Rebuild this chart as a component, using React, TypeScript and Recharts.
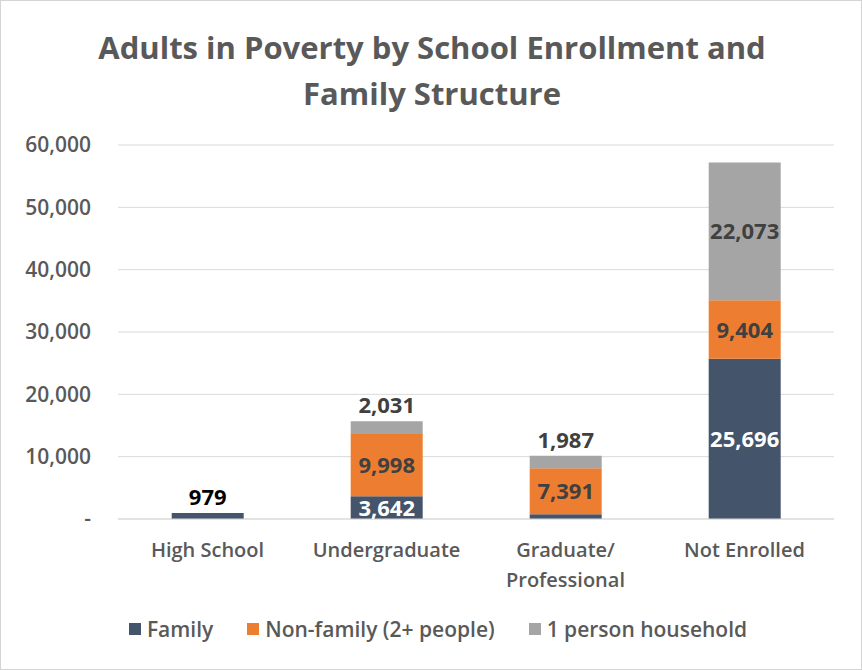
import React from 'react';
import { BarChart, Bar, XAxis, YAxis, CartesianGrid, Legend, LabelList } from 'recharts';

const categories = ['High School', 'Undergraduate', 'Graduate/Professional', 'Not Enrolled'];
const family = [979, 3642, 750, 25696];
const nonFamily = [0, 9998, 7391, 9404];
const onePerson = [0, 2031, 1987, 22073];
const yTicks = [0, 10000, 20000, 30000, 40000, 50000, 60000];

const FONT = '"Open Sans", "DejaVu Sans", sans-serif';
const COLORS = { family: '#44546A', nonFamily: '#ED7D31', onePerson: '#A5A5A5' };

const data = categories.map((name, i) => ({
    name,
    family: family[i],
    nonFamily: nonFamily[i],
    onePerson: onePerson[i],
}));

const fmt = (v: number) => v.toLocaleString('en-US');

// segment labels: inside when the segment is tall enough, above when it's the top of a short bar
const makeLabel = (key: 'family' | 'nonFamily' | 'onePerson', inside: string) => (props: any) => {
    const { x, y, width, height, value, index } = props;
    if (!value) return null;
    const row = data[index];
    const isTop =
        key === 'onePerson' ||
        (key === 'nonFamily' && !row.onePerson) ||
        (key === 'family' && !row.nonFamily && !row.onePerson);
    const cx = x + width / 2;
    if (height >= 20) {
        return (
            <text x={cx} y={y + height / 2} dy={8} textAnchor="middle" fill={inside}
                style={{ fontFamily: FONT, fontSize: 22, fontWeight: 700 }}>
                {fmt(value)}
            </text>
        );
    }
    if (!isTop) return null;
    return (
        <text x={cx} y={y - 8} textAnchor="middle" fill={key === 'family' ? '#000' : '#404040'}
            style={{ fontFamily: FONT, fontSize: 22, fontWeight: 700 }}>
            {fmt(value)}
        </text>
    );
};

const XTick = (props: any) => {
    const { x, y, payload } = props;
    const lines = String(payload.value).split('/').map((s, i, arr) => (i < arr.length - 1 ? s + '/' : s));
    return (
        <text x={x} y={y} textAnchor="middle" fill="#595959"
            style={{ fontFamily: FONT, fontSize: 20, fontWeight: 600 }}>
            {lines.map((l, i) => (
                <tspan key={i} x={x} dy={i === 0 ? 36 : 30}>{l}</tspan>
            ))}
        </text>
    );
};

const legendItems = [
    { label: 'Family', color: COLORS.family },
    { label: 'Non-family (2+ people)', color: COLORS.nonFamily },
    { label: '1 person household', color: COLORS.onePerson },
];

const LegendBox = () => (
    <div style={{ height: 51, display: 'flex', justifyContent: 'center', alignItems: 'flex-start', paddingTop: 6, paddingLeft: 34, boxSizing: 'border-box' }}>
        {legendItems.map((it) => (
            <div key={it.label} style={{ display: 'flex', alignItems: 'center', margin: '0 17px', fontFamily: FONT, fontSize: 21, fontWeight: 600, color: '#595959' }}>
                <span style={{ width: 12, height: 12, background: it.color, display: 'inline-block', marginRight: 6 }} />
                {it.label}
            </div>
        ))}
    </div>
);

const App: React.FC = () => {
    return (
        <div style={{ position: 'absolute', left: 0, top: 0, width: 862, height: 670, background: '#fff', border: '1px solid #d4d4d4', boxSizing: 'border-box' }}>
            <div style={{ position: 'absolute', top: 23, left: 0, width: 862, textAlign: 'center', fontFamily: FONT, fontSize: 31, fontWeight: 700, color: '#595959', lineHeight: '46px' }}>
                Adults in Poverty by School Enrollment and<br />Family Structure
            </div>
            <div style={{ position: 'absolute', left: -1, top: -1 }}>
                <BarChart width={862} height={670} data={data} barCategoryGap="30%"
                    margin={{ top: 145, right: 28, bottom: 10, left: 8 }}>
                    <CartesianGrid vertical={false} stroke="#d9d9d9" />
                    <XAxis dataKey="name" axisLine={{ stroke: '#d9d9d9' }} tickLine={false} tickSize={0} height={90}
                        tick={<XTick />} interval={0} />
                    <YAxis width={110} domain={[0, 60000]} ticks={yTicks} axisLine={false} tickLine={false}
                        tickSize={0} tickMargin={27} tickFormatter={(v: number) => (v === 0 ? '-' : fmt(v))}
                        tick={{ fill: '#595959', fontFamily: FONT, fontSize: 21, fontWeight: 600 }} />
                    <Legend verticalAlign="bottom" content={<LegendBox />} />
                    <Bar dataKey="family" stackId="a" fill={COLORS.family} isAnimationActive={false} name="Family">
                        <LabelList dataKey="family" content={makeLabel('family', '#ffffff')} />
                    </Bar>
                    <Bar dataKey="nonFamily" stackId="a" fill={COLORS.nonFamily} isAnimationActive={false} name="Non-family (2+ people)">
                        <LabelList dataKey="nonFamily" content={makeLabel('nonFamily', '#404040')} />
                    </Bar>
                    <Bar dataKey="onePerson" stackId="a" fill={COLORS.onePerson} isAnimationActive={false} name="1 person household">
                        <LabelList dataKey="onePerson" content={makeLabel('onePerson', '#404040')} />
                    </Bar>
                </BarChart>
            </div>
        </div>
    );
};

export default App;
